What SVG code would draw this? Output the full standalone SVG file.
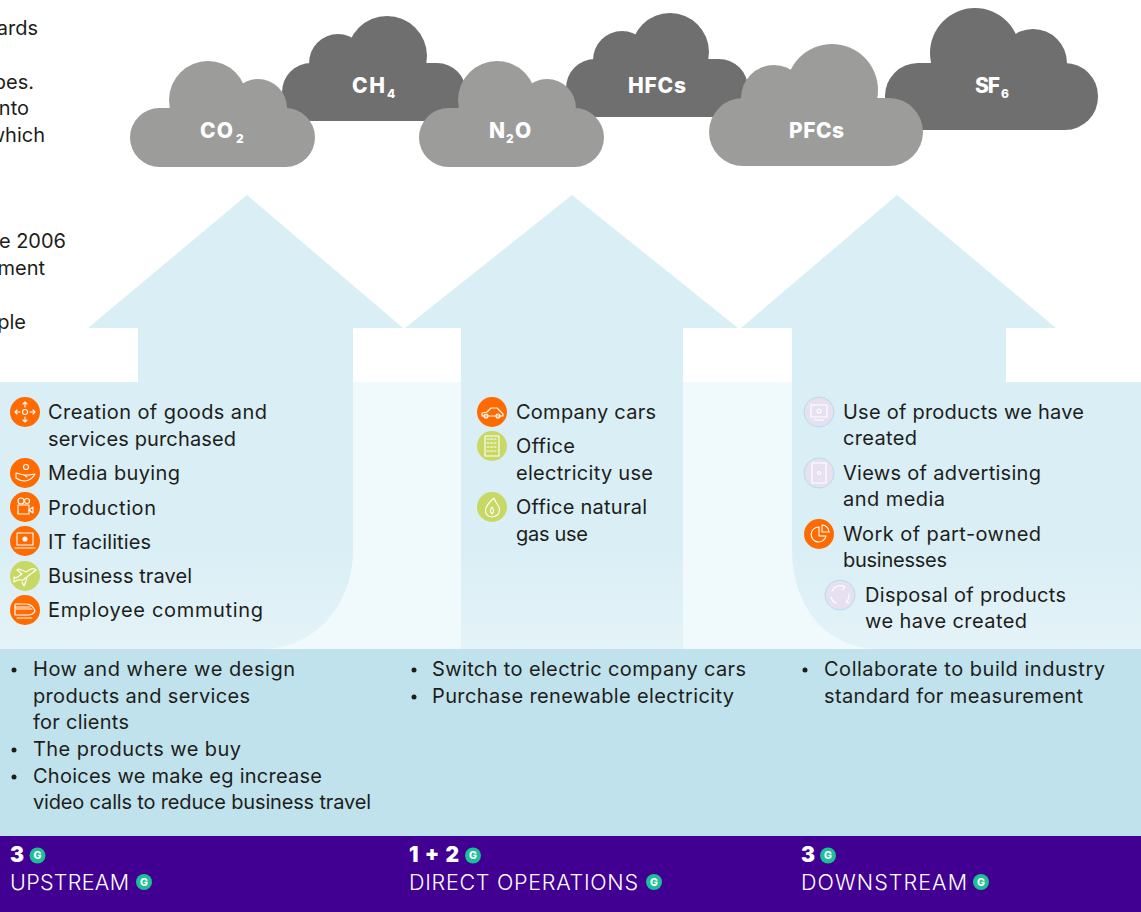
<svg xmlns="http://www.w3.org/2000/svg" width="1141" height="912" viewBox="0 0 1141 912">
<defs>
<linearGradient id="fade" gradientUnits="userSpaceOnUse" x1="0" y1="540" x2="0" y2="648"><stop offset="0" stop-color="#d9eef5"/><stop offset="1" stop-color="#e4f3f8"/></linearGradient>
</defs>
<style>
text{font-family:Inter,"Liberation Sans",sans-serif}
.t{font-size:20px;fill:#1d1d1b}
.c{font-size:21px;font-weight:800;fill:#fff}
.s{font-size:12px;font-weight:800;fill:#fff}
.d{fill:#6f6f6f}.l{fill:#9c9c9b}
.a{fill:url(#fade)}
.b{fill:#1d1d1b}
.i{fill:none;stroke:#fff;stroke-width:1.1;stroke-linejoin:round;stroke-linecap:round}
.or{fill:#ff6b00}.gr{fill:#c8d864}.li{fill:#e6e0f0;stroke:#b5dcee;stroke-width:1}
.g{fill:#1cbf96}.gt{font-size:10.5px;font-weight:800;fill:#fff;text-anchor:middle}
.h{font-size:21px;font-weight:900;fill:#fff}
.u{font-size:21.5px;font-weight:300;fill:#fff}
</style>
<rect width="1141" height="912" fill="#fff"/>
<g id="clipped-text">
<text class="t" x="38" y="35" text-anchor="end">ards</text>
<text class="t" x="34" y="89" text-anchor="end">pes.</text>
<text class="t" x="29" y="115" text-anchor="end">nto</text>
<text class="t" x="45" y="142" text-anchor="end">which</text>
<text class="t" x="66" y="248" text-anchor="end">e 2006</text>
<text class="t" x="45" y="275" text-anchor="end">ment</text>
<text class="t" x="26" y="329" text-anchor="end">ple</text>
</g>
<g id="background">
<rect x="0" y="382" width="1141" height="267" fill="#f0f9fc"/>
<path class="a" d="M247 195L403 328H353V550C353 605 315 649 262 649H0V382H138V328H88Z"/>
<path class="a" d="M572 195L738 328H683V649H461V328H405Z"/>
<path class="a" d="M897 195L1056 328H1006V382H1141V649H880C825 649 792 605 792 550V328H741Z"/>
<rect x="0" y="649" width="1141" height="187" fill="#c0e2ec"/>
<rect x="0" y="836" width="1141" height="76" fill="#420092"/>
</g>
<g id="cloud-ch4" class="d"><rect x="282" y="63" width="184" height="58" rx="29"/><circle cx="387" cy="56" r="40"/><circle cx="338" cy="63" r="29"/><text class="c" x="352" y="93" textLength="33">CH</text><text class="s" x="387" y="98">4</text></g>
<g id="cloud-hfcs" class="d"><rect x="566" y="59" width="182" height="58" rx="29"/><circle cx="670" cy="52" r="39"/><circle cx="622" cy="60" r="29"/><text class="c" x="628" y="93" textLength="58">HFCs</text></g>
<g id="cloud-sf6" class="d"><rect x="885" y="63" width="213" height="67" rx="33"/><circle cx="975" cy="53" r="45"/><circle cx="1033" cy="63" r="34"/><text class="c" x="975" y="93" textLength="25">SF</text><text class="s" x="1001" y="98">6</text></g>
<g id="cloud-co2" class="l"><rect x="130" y="108" width="185" height="59" rx="29.500"/><circle cx="208" cy="100" r="39"/><circle cx="258" cy="108" r="29"/><text class="c" x="200" y="138" textLength="33">CO</text><text class="s" x="236" y="143">2</text></g>
<g id="cloud-n2o" class="l"><rect x="419" y="108" width="185" height="59" rx="29.500"/><circle cx="497" cy="100" r="39"/><circle cx="547" cy="108" r="29"/><text class="c" x="489" y="138" textLength="15">N</text><text class="s" x="506" y="143">2</text><text class="c" x="515" y="138" textLength="19">O</text></g>
<g id="cloud-pfcs" class="l"><rect x="709" y="98" width="214" height="68" rx="34"/><circle cx="832" cy="90" r="46"/><circle cx="774" cy="98" r="33"/><text class="c" x="789" y="138" textLength="55">PFCs</text></g>

<g id="item-creation"><circle class="or" cx="25" cy="412" r="15"/><g class="i"><circle cx="25" cy="412" r="2.500"/><path d="M25 407V402M23 404L25 402L27 404M25 417V422M23 420L25 422L27 420M20 412H15M17 410L15 412L17 414M30 412H35M33 410L35 412L33 414"/></g><text class="t" x="48" y="419" textLength="219">Creation of goods and</text><text class="t" x="48" y="446" textLength="188">services purchased</text></g>
<g id="item-media"><circle class="or" cx="25" cy="473" r="15"/><g class="i"><circle cx="26" cy="467" r="2.500"/><path d="M16 473L24 475H29L35 474Q32 480 25 481Q20 481 16 478ZM24 475L27 477"/></g><text class="t" x="48" y="480" textLength="132">Media buying</text></g>
<g id="item-production"><circle class="or" cx="25" cy="507" r="15"/><g class="i"><circle cx="21" cy="501" r="3"/><circle cx="27" cy="501" r="2.500"/><rect x="18" y="505" width="11" height="9"/><path d="M29 510L33 507V513Z"/></g><text class="t" x="48" y="515" textLength="108">Production</text></g>
<g id="item-it"><circle class="or" cx="25" cy="541" r="15"/><g class="i"><rect x="17" y="533" width="16" height="12"/><path d="M15 548H35"/><circle cx="25" cy="539" r="2" fill="#fff"/></g><text class="t" x="48" y="549" textLength="103">IT facilities</text></g>
<g id="item-travel"><circle class="gr" cx="25" cy="576" r="15"/><g class="i"><path d="M14 582L18 580L23 580L36 570Q34 568 31 569L26 572L19 569L17 570L22 574L16 578L14 577Z"/><path d="M22 582L24 586L27 578"/></g><text class="t" x="48" y="583" textLength="144">Business travel</text></g>
<g id="item-commuting"><circle class="or" cx="25" cy="610" r="15"/><g class="i"><path d="M15 604H27Q33 605 35 611Q33 615 28 615H15ZM15 607H30M15 609H32M17 618H32"/></g><text class="t" x="48" y="617" textLength="215">Employee commuting</text></g>

<g id="item-cars"><circle class="or" cx="492" cy="412" r="15"/><g class="i"><path d="M482 416V413L487 412L491 408H497L501 412L503 414V416Z"/><circle cx="486" cy="416" r="2"/><circle cx="498" cy="416" r="2"/></g><text class="t" x="516" y="419" textLength="140">Company cars</text></g>
<g id="item-electricity"><circle class="gr" cx="492" cy="446" r="15"/><g class="i"><rect x="485" y="436" width="14" height="20"/><path d="M487 439H497M487 443H497M487 447H497M487 451H497" stroke-dasharray="2 1.500"/></g><text class="t" x="516" y="453" textLength="59">Office</text><text class="t" x="516" y="480" textLength="137">electricity use</text></g>
<g id="item-gas"><circle class="gr" cx="492" cy="507" r="15"/><g class="i"><path d="M494 498Q496 503 499 507Q501 516 492 517Q484 516 486 508Q488 503 494 498Z"/><path d="M492 507Q495 511 492 514Q489 511 492 507Z"/></g><text class="t" x="516" y="514" textLength="131">Office natural</text><text class="t" x="516" y="541" textLength="72">gas use</text></g>

<g id="item-use"><circle class="li" cx="819" cy="412" r="15"/><g class="i"><rect x="811" y="405" width="16" height="12"/><path d="M814 420H824"/><circle cx="819" cy="411" r="2"/></g><text class="t" x="843" y="419" textLength="241">Use of products we have</text><text class="t" x="843" y="445" textLength="74">created</text></g>
<g id="item-views"><circle class="li" cx="819" cy="473" r="15"/><g class="i"><rect x="812" y="463" width="14" height="20"/><circle cx="819" cy="473" r="1.500"/></g><text class="t" x="843" y="480" textLength="198">Views of advertising</text><text class="t" x="843" y="506" textLength="102">and media</text></g>
<g id="item-work"><circle class="or" cx="819" cy="534" r="15"/><g class="i"><path d="M819 527A7.500 7.500 0 1 0 826 536H819Z"/><path d="M822 525A7 7 0 0 1 829 532H822Z"/></g><text class="t" x="843" y="541" textLength="198">Work of part-owned</text><text class="t" x="843" y="567" textLength="104">businesses</text></g>
<g id="item-disposal"><circle class="li" cx="840" cy="595" r="15"/><g class="i"><path d="M832 591A9 9 0 0 1 845 587M849 594A9 9 0 0 1 846 602M836 603A9 9 0 0 1 831 597M844 587L843 590M846 602L849 603"/></g><text class="t" x="865" y="602" textLength="201">Disposal of products</text><text class="t" x="865" y="628" textLength="162">we have created</text></g>

<g id="levers-upstream">
<circle class="b" cx="14" cy="670" r="2.500"/><text class="t" x="33" y="676" textLength="262">How and where we design</text><text class="t" x="33" y="703" textLength="217">products and services</text><text class="t" x="33" y="729" textLength="96">for clients</text>
<circle class="b" cx="14" cy="750" r="2.500"/><text class="t" x="33" y="756" textLength="208">The products we buy</text>
<circle class="b" cx="14" cy="777" r="2.500"/><text class="t" x="33" y="783" textLength="289">Choices we make eg increase</text><text class="t" x="33" y="809" textLength="338">video calls to reduce business travel</text>
</g>
<g id="levers-direct">
<circle class="b" cx="414" cy="670" r="2.500"/><text class="t" x="432" y="676" textLength="314">Switch to electric company cars</text>
<circle class="b" cx="414" cy="697" r="2.500"/><text class="t" x="432" y="703" textLength="302">Purchase renewable electricity</text>
</g>
<g id="levers-downstream">
<circle class="b" cx="805" cy="670" r="2.500"/><text class="t" x="824" y="676" textLength="281">Collaborate to build industry</text><text class="t" x="824" y="703" textLength="259">standard for measurement</text>
</g>

<g id="footer-upstream"><text class="h" x="10" y="862" textLength="13">3</text><circle class="g" cx="37.500" cy="855.500" r="8"/><text class="gt" x="37.500" y="859.300">G</text><text class="u" x="10" y="890" textLength="119">UPSTREAM</text><circle class="g" cx="144" cy="882" r="8"/><text class="gt" x="144" y="885.800">G</text></g>
<g id="footer-direct"><text class="h" x="409" y="862" textLength="50">1 + 2</text><circle class="g" cx="473" cy="855.500" r="8"/><text class="gt" x="473" y="859.300">G</text><text class="u" x="409" y="890" textLength="229">DIRECT OPERATIONS</text><circle class="g" cx="654" cy="882" r="8"/><text class="gt" x="654" y="885.800">G</text></g>
<g id="footer-downstream"><text class="h" x="801" y="862" textLength="13">3</text><circle class="g" cx="828" cy="855.500" r="8"/><text class="gt" x="828" y="859.300">G</text><text class="u" x="801" y="890" textLength="166">DOWNSTREAM</text><circle class="g" cx="981" cy="882" r="8"/><text class="gt" x="981" y="885.800">G</text></g>
</svg>
